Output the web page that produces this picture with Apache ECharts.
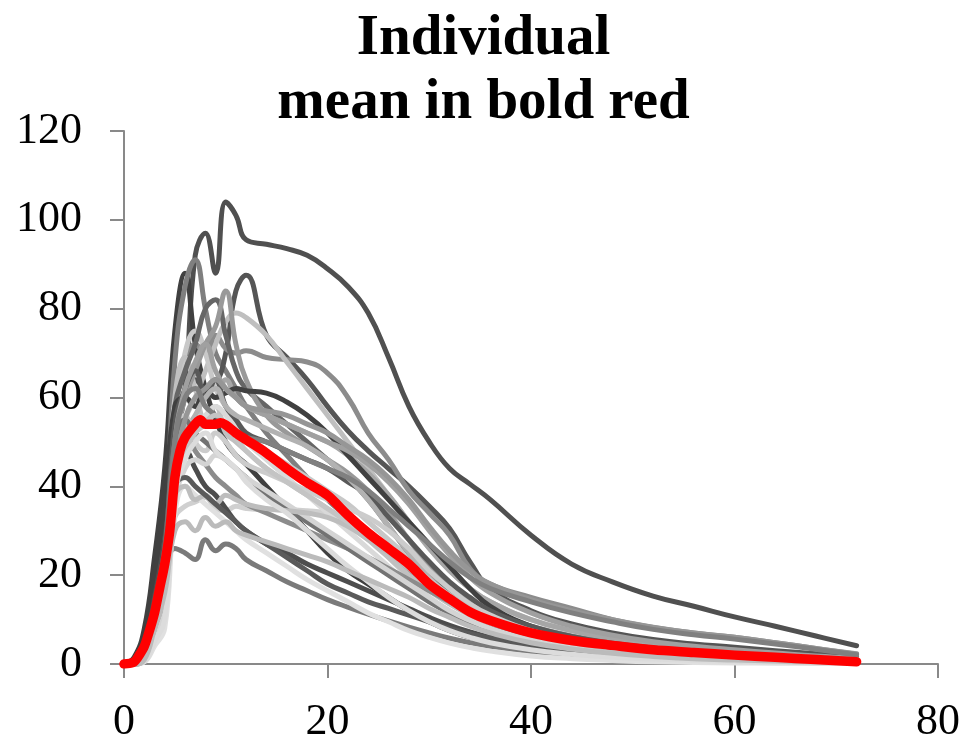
<!DOCTYPE html>
<html>
<head>
<meta charset="utf-8">
<script src="https://cdn.jsdelivr.net/npm/echarts@6/dist/echarts.min.js"></script>
<style>
  html, body { margin: 0; padding: 0; background: #fff; }
  #main { width: 967px; height: 742px; }
</style>
</head>
<body>
<div id="main"></div>
<script>
// 横轴：天数（所有个体曲线共用）
var days = [0,1,2,3,4,5,6,7,8,9,10,11,12,14,16,18,20,22,24,26,28,30,32,34,36,40,44,48,52,56,60,64,68,72]

// 个体曲线（灰色）
var ind01 = [0,0,2,12,22,48,62,92,97,88,104,101,95.5,94.5,93.5,92,89,85,79,69,58,50,44,40.5,37,29,22.5,18.5,15.3,13,10.6,8.5,6.3,4.1]
var ind02 = [0,1.5,8,24,44,75,88,72,62,55,50,47,45,40,35,30,25,21,18,15,12,9.5,7.5,6,5,3.5,2.5,1.8,1.3,1,0.7,0.5,0.35,0.25]
var ind03 = [0,0,3,18,32,68,85,91,80,70,66,62,58,52,47,42,37,33,29,25,21,17.5,14.5,12,10,7.5,5.5,4.2,3.2,2.5,2,1.5,1.1,0.8]
var ind04 = [0,0,2,12,24,50,60,64,62,63,70,84,87.5,74,69,64,58,52.5,48,44,40,35.5,30.5,23,17,12,9,7,5.5,4.5,3.8,3,2.3,1.6]
var ind05 = [0,0,1.5,10,22,55,68,72,70,74,71,70,70.5,69,68.5,68,65.5,60,52,46,39,34,29,21.5,18,15,12.5,10,8.2,7,6,4.8,3.5,2.2]
var ind06 = [0,0,2,10,20,26,25,23.5,28,25.5,27,26,23.5,21,18.5,16.5,14.5,12.8,11.2,9.7,8.3,7,5.8,4.8,4,2.8,2,1.5,1.1,0.8,0.6,0.45,0.35,0.25]
var ind07 = [0,0,2,12,18,33,35.5,36.5,37.5,35,34.5,35.5,35,34.7,34.7,34.5,34,32,29,24,19.5,15,12,9.5,7.5,5,3.5,2.5,1.8,1.3,1,0.7,0.5,0.35]
var ind08 = [0,0,1,8,14,45,55,60,66,72,77,79,78,74,68,62,56,50,44,38,32,26,21,17,14,10,7.5,5.8,4.5,3.5,2.7,2,1.5,1]
var ind09 = [0,0,1,10,24,55,70,75,70,62,58,55,52,48,45,42,39,36,32,28,24,20,16,13,11,8,6,4.5,3.5,2.7,2,1.5,1.1,0.8]
var ind10 = [0,0,2,14,30,60,69,62,55,58,52,50,48,44,41,38,35,32,28,24,20,16.5,13.5,11,9,6.5,4.8,3.6,2.7,2,1.5,1.1,0.8,0.5]
var ind11 = [0,0,3,16,32,58,66,72,80,82,74,66,62,58,54,50,46,42,37,31,25,20,16,12.5,10,7,5,3.8,2.8,2.1,1.6,1.2,0.9,0.6]
var ind12 = [0,0,1,8,18,48,60,66,72,76,84,72,64,56,52,49,46,43,39,34,28,22,17.5,14,11.5,8.5,6.3,4.8,3.6,2.8,2.1,1.6,1.2,0.9]
var ind13 = [0,0,2,12,26,52,60,58,62,60,64,60,58,56,54,52,50,47,43,38,32,26,21,17,14,10,7.5,5.6,4.3,3.3,2.5,1.9,1.4,1]
var ind14 = [0,0,1,6,12,40,50,54,56,58,56,53,50,46,42,38,34,30,26,22,18,14.5,11.5,9,7.5,5,3.5,2.5,1.8,1.3,1,0.7,0.5,0.3]
var ind15 = [0,1,6,20,36,58,60,58,62,60,61,62,61.5,61,59,56,52,47,42,37,32,27,22,17,13,8.5,6,4.5,3.3,2.5,1.9,1.4,1,0.7]
var ind16 = [0,0.5,4,15,28,45,48,44,40,38,35,32,30,27,25,22.5,20.5,18.5,16.5,14.5,12.5,10.5,8.7,7.2,6,4,2.8,2,1.4,1,0.7,0.5,0.35,0.25]
var ind17 = [0,0,2,14,26,54,62,66,60,64,58,55,52,50,48,46,44,41,38,33,28,23,18.5,15,12,8.5,6.2,4.7,3.6,2.8,2.1,1.6,1.2,0.8]
var ind18 = [0,0,1,7,14,42,52,56,60,62,58,56,55,53,51,49,46,42,37,31,25,19.5,15,12,9.5,6.5,4.6,3.3,2.4,1.8,1.3,1,0.7,0.5]
var ind19 = [0,0,1,9,20,48,56,50,48,52,50,47,45,43,41,39,37,35,33,30,26,21,17,13.5,11,7.5,5.5,4,3,2.3,1.7,1.3,0.9,0.6]
var ind20 = [0,0,2,11,22,46,52,48,45,42,40,38,36,34,32,30,28,26,24,21.5,19,16.5,14,12,10,7.2,5.2,3.9,3,2.3,1.7,1.3,0.9,0.6]
var ind21 = [0,0,0.5,4,8,34,40,38,36,34,32,30,28,25,22,19,16.5,14,11.5,9.5,7.5,6,4.7,3.7,2.9,1.8,1.2,0.8,0.5,0.35,0.25,0.18,0.12,0.1]
var ind22 = [0,0,1.5,10,20,50,62,68,72,66,62,60,58,56,54,52,50,48,45,41,36,30,24.5,19.5,16,11.5,8.5,6.5,5,4,3.2,2.5,1.8,1.3]
var ind23 = [0,0,2,13,26,50,55,52,50,48,46,44,42,38,35,32,29,26,23,20,17,14,11.5,9.5,8,5.8,4.3,3.2,2.4,1.8,1.4,1,0.7,0.5]
var ind24 = [0,0,1,6,12,36,44,46,45,47,46,44,42,39,36,33,30,27,24,21,18,15,12,9.8,8,5.5,4,2.9,2.1,1.6,1.2,0.9,0.6,0.4]
var ind25 = [0,0,1.5,10,20,38,40,37,38,36,38,37,36,35,34.5,34,33,31,28,25,21.5,18,14.5,11.5,9.5,6.6,4.8,3.5,2.6,2,1.5,1.1,0.8,0.55]
var ind26 = [0,0,1,8,16,44,55,60,62,64,62,60,58,57,56,54,52,49,46,42,37,31,25.5,21,18,14.5,12,10,8.3,7,6,4.8,3.5,2.3]
var ind27 = [0,0,1.5,9,22,50,60,62,58,56,54,52,51,50,48,46,44,42,39,35,31,27,23,19.5,17,14,11.5,9.5,7.8,6.6,5.6,4.5,3.3,2.1]
var ind28 = [0,0,1,8,16,42,48,52,54,56,54,51,48,44,41,38,35,32,29,26,22.5,19,15.5,12.5,10,7,5,3.7,2.8,2.1,1.6,1.2,0.8,0.55]
var ind29 = [0,0.5,3,12,24,40,42,40,38,36,34,32,30,27,24,21,18,16,14,12.5,11,9.5,8,6.8,5.8,4.1,2.9,2.1,1.5,1.1,0.8,0.6,0.4,0.3]
var ind30 = [0,0,0.5,5,10,38,46,50,52,48,46,44,41,37,34,30,26,22,18.5,15,12,9.5,7.5,6,4.8,3.2,2.2,1.5,1.1,0.8,0.6,0.45,0.3,0.2]
var ind31 = [0,0,1,8,16,30,32,30,33,31,32,30,29,27.5,26,24.5,23,21,19,17,15,12.5,10.5,8.5,7,4.8,3.4,2.4,1.7,1.2,0.9,0.65,0.45,0.3]

var individuals = [ind01,ind02,ind03,ind04,ind05,ind06,ind07,ind08,ind09,ind10,ind11,ind12,ind13,ind14,ind15,ind16,
                   ind17,ind18,ind19,ind20,ind21,ind22,ind23,ind24,ind25,ind26,ind27,ind28,ind29,ind30,ind31]
var grays = ['#505050','#404040','#7f7f7f','#555555','#8c8c8c','#7a7a7a','#d0d0d0','#bfbfbf','#c8c8c8','#c0c0c0','#666666',
             '#999999','#a6a6a6','#d9d9d9','#404040','#4d4d4d','#595959','#b2b2b2','#cccccc','#8c8c8c','#e0e0e0','#a0a0a0',
             '#737373','#d4d4d4','#bdbdbd','#969696','#808080','#c4c4c4','#5a5a5a','#dcdcdc','#bbbbbb']

// 均值（红色粗线）
var meanDays = [0,1,1.5,2,2.5,3,3.5,4,4.5,5,5.5,6,7,7.5,8,9,9.5,10,11,12,14,16,18,20,22,24,26,28,30,32,34,36,40,44,48,52,56,60,64,68,72]
var meanValues = [0,0.5,2,4,7.5,11.5,17,22.5,30,42,48,51,54,55,54,54,54.3,53.8,52,50.5,47.5,44,40.8,38,33.5,29.5,26,22.5,18,14.7,11.7,9.8,7,5.3,4.2,3.2,2.6,2,1.5,1,0.5]

var xTicks = [0, 20, 40, 60, 80]
var yTicks = [0, 20, 40, 60, 80, 100, 120]

function pairs(xs, ys) {
    return ys.map(function (v, i) { return [xs[i], v] })
}

var seriesList = individuals.map(function (ys, i) {
    return {
        type: 'line',
        data: pairs(days, ys),
        smooth: 0.45,
        symbol: 'none',
        lineStyle: { color: grays[i], width: 5, cap: 'round', join: 'round' },
        silent: true
    }
})
seriesList.push({
    name: 'mean',
    type: 'line',
    data: pairs(meanDays, meanValues),
    smooth: 0.3,
    symbol: 'none',
    lineStyle: { color: '#ff0000', width: 9.5, cap: 'round', join: 'round' },
    z: 5
})

var axisStyle = { lineStyle: { color: '#898989', width: 2 } }
var font = 'Liberation Serif'

var myChart = echarts.init(document.getElementById('main'))
myChart.setOption({
    animation: false,
    backgroundColor: '#ffffff',
    title: {
        text: 'Individual\nmean in bold red',
        left: 'center',
        top: 2,
        textStyle: { fontFamily: font, fontSize: 57, fontWeight: 'bold', color: '#000', lineHeight: 64 }
    },
    grid: { left: 124, right: 29, top: 131, bottom: 78, containLabel: false, outerBoundsMode: 'none' },
    xAxis: {
        type: 'value', min: xTicks[0], max: xTicks[xTicks.length - 1], interval: 20,
        axisLine: axisStyle,
        axisTick: { show: true, inside: false, length: 14, lineStyle: { color: '#898989', width: 2 } },
        axisLabel: { fontFamily: font, fontSize: 44, color: '#000', margin: 36, hideOverlap: false },
        splitLine: { show: false }
    },
    yAxis: {
        type: 'value', min: yTicks[0], max: yTicks[yTicks.length - 1], interval: 20,
        axisLine: { show: true, lineStyle: { color: '#898989', width: 2 } },
        axisTick: { show: true, inside: false, length: 14, lineStyle: { color: '#898989', width: 2 } },
        axisLabel: { fontFamily: font, fontSize: 44, color: '#000', margin: 42, hideOverlap: false },
        splitLine: { show: false }
    },
    series: seriesList
})
</script>
</body>
</html>
